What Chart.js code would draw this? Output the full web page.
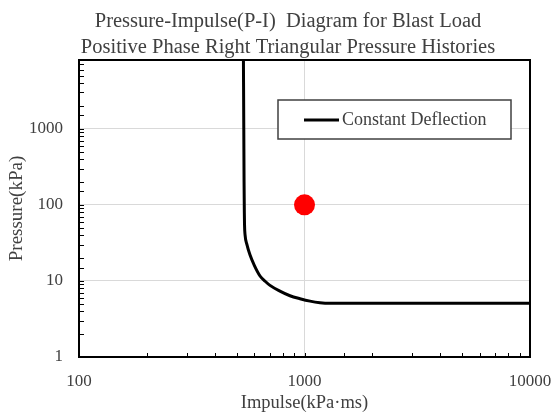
<!DOCTYPE html>
<html>
<head>
<meta charset="utf-8">
<script src="https://cdn.jsdelivr.net/npm/chart.js@4.4.1/dist/chart.umd.min.js"></script>
<style>
  html, body { margin: 0; padding: 0; background: #fff; }
  #wrap { width: 554px; height: 414px; position: relative; }
</style>
</head>
<body>
<div id="wrap"><canvas id="chart" width="554" height="414"></canvas></div>
<script>
// P-I curve
const curveImpulse = [536, 538, 539.5, 541, 542, 545, 556, 573, 599, 635, 669, 703, 778, 862, 955, 1058, 1171, 1300, 10000];
const curvePressure = [8000, 1000, 200, 80, 55, 40.3, 29.8, 22, 16, 11.6, 9.9, 8.73, 7.34, 6.38, 5.83, 5.42, 5.18, 5.1, 5.1];

// load point
const pointImpulse = [1000];
const pointPressure = [100];

const titleLines = [
    "Pressure-Impulse(P-I)  Diagram for Blast Load",
    "Positive Phase Right Triangular Pressure Histories",
];
const legendLabel = "Constant Deflection";
const xTitle = "Impulse(kPa\u00b7ms)";
const yTitle = "Pressure(kPa)";

const FONT = "'Liberation Serif', 'Times New Roman', serif";
const TEXT = "#404040";

const isDecade = (v) => {
    const l = Math.log10(v);
    return Math.abs(l - Math.round(l)) < 1e-9;
};

// title, legend, frame and inner tick marks
const decorPlugin = {
    id: "decor",
    afterDraw(chart) {
        const { ctx, chartArea: a, scales } = chart;
        ctx.save();

        // inward tick marks
        ctx.strokeStyle = "#000";
        ctx.lineWidth = 1;
        scales.x.ticks.forEach((t) => {
            const px = Math.round(scales.x.getPixelForValue(t.value)) + 0.5;
            ctx.beginPath();
            ctx.moveTo(px, a.bottom);
            ctx.lineTo(px, a.bottom - 4);
            ctx.stroke();
        });
        scales.y.ticks.forEach((t) => {
            const py = Math.round(scales.y.getPixelForValue(t.value)) + 0.5;
            ctx.beginPath();
            ctx.moveTo(a.left, py);
            ctx.lineTo(a.left + 5, py);
            ctx.stroke();
        });

        // frame
        ctx.lineWidth = 2;
        ctx.strokeRect(a.left, a.top, a.right - a.left, a.bottom - a.top);

        // title
        ctx.fillStyle = TEXT;
        ctx.font = "20.5px " + FONT;
        ctx.textAlign = "center";
        ctx.textBaseline = "alphabetic";
        ctx.fillText(titleLines[0], 288, 27);
        ctx.fillText(titleLines[1], 288, 53);

        // legend
        ctx.fillStyle = "#fff";
        ctx.fillRect(278, 100, 233, 39);
        ctx.strokeStyle = "#404040";
        ctx.lineWidth = 1.5;
        ctx.strokeRect(278, 100, 233, 39);
        ctx.strokeStyle = "#000";
        ctx.lineWidth = 3;
        ctx.beginPath();
        ctx.moveTo(304, 120);
        ctx.lineTo(339, 120);
        ctx.stroke();
        ctx.fillStyle = TEXT;
        ctx.font = "18px " + FONT;
        ctx.textAlign = "left";
        ctx.textBaseline = "middle";
        ctx.fillText(legendLabel, 342, 120);

        ctx.restore();
    },
};

const curveData = curveImpulse.map((x, i) => ({ x, y: curvePressure[i] }));
const pointData = pointImpulse.map((x, i) => ({ x, y: pointPressure[i] }));

new Chart(document.getElementById("chart"), {
    type: "scatter",
    data: {
        datasets: [
            {
                label: legendLabel,
                data: curveData,
                showLine: true,
                borderColor: "#000",
                borderWidth: 3,
                pointRadius: 0,
                cubicInterpolationMode: "monotone",
                fill: false,
            },
            {
                label: "Load",
                data: pointData,
                pointRadius: 10.5,
                pointBackgroundColor: "#ff0000",
                pointBorderWidth: 0,
                showLine: false,
            },
        ],
    },
    options: {
        responsive: false,
        animation: false,
        layout: {
            padding: { top: 60, right: 24, left: 0, bottom: 0 },
        },
        plugins: {
            legend: { display: false },
            title: { display: false },
            tooltip: { enabled: false },
        },
        scales: {
            x: {
                type: "logarithmic",
                min: 100,
                max: 10000,
                afterFit: (s) => {
                    s.height = 57;
                    s.paddingLeft = 0;
                    s.paddingRight = 0;
                },
                border: { display: false },
                grid: {
                    drawTicks: false,
                    color: (c) => (c.tick && isDecade(c.tick.value) ? "#d9d9d9" : "rgba(0,0,0,0)"),
                },
                ticks: {
                    autoSkip: false,
                    maxRotation: 0,
                    padding: 14,
                    color: TEXT,
                    font: { family: FONT, size: 17 },
                    callback: (v) => (isDecade(v) ? String(v) : ""),
                },
                title: {
                    display: true,
                    text: xTitle,
                    color: TEXT,
                    font: { family: FONT, size: 18.5 },
                    padding: { top: 0, bottom: 0 },
                },
            },
            y: {
                type: "logarithmic",
                min: 1,
                max: 8000,
                afterFit: (s) => {
                    s.width = 79;
                    s.paddingTop = 0;
                    s.paddingBottom = 0;
                },
                border: { display: false },
                grid: {
                    drawTicks: false,
                    color: (c) => (c.tick && isDecade(c.tick.value) ? "#d9d9d9" : "rgba(0,0,0,0)"),
                },
                ticks: {
                    autoSkip: false,
                    padding: 16,
                    color: TEXT,
                    font: { family: FONT, size: 17 },
                    callback: (v) => (isDecade(v) ? String(v) : ""),
                },
                title: {
                    display: true,
                    text: yTitle,
                    color: TEXT,
                    font: { family: FONT, size: 19 },
                    padding: { top: 6, bottom: 0 },
                },
            },
        },
    },
    plugins: [decorPlugin],
});
</script>
</body>
</html>
